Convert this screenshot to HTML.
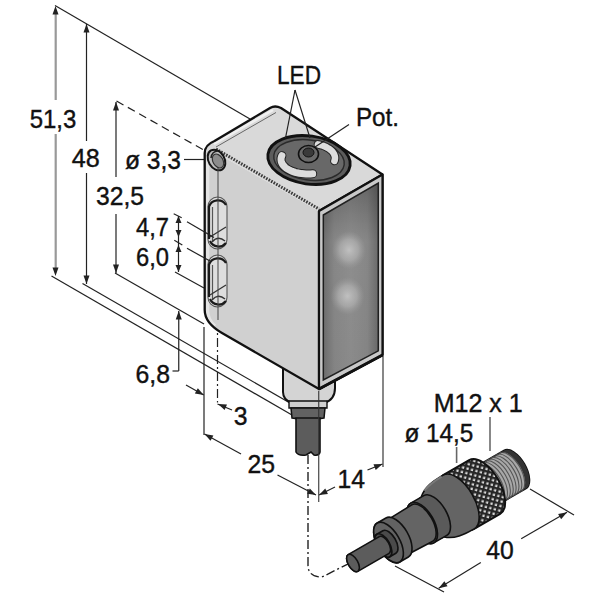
<!DOCTYPE html>
<html><head><meta charset="utf-8"><style>
html,body{margin:0;padding:0;background:#fff;}
svg{display:block;font-family:"Liberation Sans",sans-serif;}
</style></head><body>
<svg width="600" height="600" viewBox="0 0 600 600">
<defs><filter id="blur" x="-1" y="-1" width="3" height="3"><feGaussianBlur stdDeviation="5"/></filter><linearGradient id="pan" x1="0" y1="0" x2="0" y2="1"><stop offset="0" stop-color="#6a6a6a"/><stop offset="0.3" stop-color="#8e8e8e"/><stop offset="1" stop-color="#8a8a8a"/></linearGradient><linearGradient id="panh" x1="0" y1="0" x2="1" y2="0"><stop offset="0" stop-color="#000" stop-opacity="0.22"/><stop offset="0.2" stop-color="#000" stop-opacity="0.05"/><stop offset="0.5" stop-color="#000" stop-opacity="0"/><stop offset="0.8" stop-color="#000" stop-opacity="0.05"/><stop offset="1" stop-color="#000" stop-opacity="0.25"/></linearGradient><radialGradient id="glow"><stop offset="0" stop-color="#c6c6c6" stop-opacity="0.9"/><stop offset="0.55" stop-color="#b4b4b4" stop-opacity="0.65"/><stop offset="1" stop-color="#a0a0a0" stop-opacity="0"/></radialGradient>
<pattern id="knurl" width="4.6" height="4.6" patternUnits="userSpaceOnUse" patternTransform="rotate(45)"><rect width="4.6" height="4.6" fill="#d8d8d8"/><rect width="4.6" height="2.3" fill="#262626"/><rect width="2.3" height="4.6" fill="#262626"/></pattern></defs>
<rect width="600" height="600" fill="#fff"/>
<line x1="55" y1="5.5" x2="250" y2="119" stroke="#222" stroke-width="1.2"/>
<line x1="55.7" y1="12" x2="55.7" y2="100" stroke="#999" stroke-width="2.2"/>
<line x1="55.7" y1="134" x2="55.7" y2="270" stroke="#999" stroke-width="2.2"/>
<polygon points="55.50,6.00 58.50,14.50 52.50,14.50" fill="#222" stroke="none" stroke-width="1"/>
<polygon points="55.50,276.00 52.50,267.50 58.50,267.50" fill="#222" stroke="none" stroke-width="1"/>
<line x1="86.5" y1="24" x2="86.5" y2="141" stroke="#222" stroke-width="1.2"/>
<line x1="86.5" y1="173" x2="86.5" y2="284" stroke="#222" stroke-width="1.2"/>
<polygon points="86.50,24.00 89.50,32.50 83.50,32.50" fill="#222" stroke="none" stroke-width="1"/>
<polygon points="86.50,284.00 83.50,275.50 89.50,275.50" fill="#222" stroke="none" stroke-width="1"/>
<line x1="116" y1="102" x2="116" y2="177" stroke="#222" stroke-width="1.2"/>
<line x1="116" y1="214" x2="116" y2="273" stroke="#222" stroke-width="1.2"/>
<polygon points="116.00,102.00 119.00,110.50 113.00,110.50" fill="#222" stroke="none" stroke-width="1"/>
<polygon points="116.00,273.00 113.00,264.50 119.00,264.50" fill="#222" stroke="none" stroke-width="1"/>
<line x1="116.5" y1="101" x2="209" y2="153" stroke="#222" stroke-width="1.2" stroke-dasharray="8,5"/>
<line x1="51.5" y1="276" x2="292" y2="415" stroke="#222" stroke-width="1.2"/>
<line x1="82.5" y1="283.5" x2="290" y2="403" stroke="#222" stroke-width="1.2"/>
<line x1="115" y1="273" x2="204" y2="324" stroke="#222" stroke-width="1.2"/>
<line x1="175" y1="272" x2="204" y2="288" stroke="#222" stroke-width="1.2"/>
<line x1="178.5" y1="216" x2="178.5" y2="272" stroke="#222" stroke-width="1.2"/>
<polygon points="178.50,216.00 181.50,223.00 175.50,223.00" fill="#222" stroke="none" stroke-width="1"/>
<polygon points="178.50,237.00 175.50,230.00 181.50,230.00" fill="#222" stroke="none" stroke-width="1"/>
<polygon points="178.50,245.00 181.50,252.00 175.50,252.00" fill="#222" stroke="none" stroke-width="1"/>
<polygon points="178.50,272.00 175.50,265.00 181.50,265.00" fill="#222" stroke="none" stroke-width="1"/>
<line x1="173.7" y1="213.7" x2="181.7" y2="217.7" stroke="#222" stroke-width="1.2"/>
<line x1="174.3" y1="240.3" x2="182.3" y2="245" stroke="#222" stroke-width="1.2"/>
<line x1="184" y1="159.5" x2="210" y2="159.5" stroke="#222" stroke-width="1.2"/>
<line x1="178.75" y1="311" x2="178.75" y2="371" stroke="#222" stroke-width="1.2"/>
<line x1="178.75" y1="371" x2="172.5" y2="371" stroke="#222" stroke-width="1.2"/>
<polygon points="178.75,311.00 181.75,319.50 175.75,319.50" fill="#222" stroke="none" stroke-width="1"/>
<line x1="186" y1="385" x2="203.75" y2="395" stroke="#222" stroke-width="1.2"/>
<polygon points="203.75,395.00 194.87,393.44 197.82,388.21" fill="#222" stroke="none" stroke-width="1"/>
<line x1="217.5" y1="168" x2="217.5" y2="402.5" stroke="#222" stroke-width="1.2" stroke-dasharray="9,3,2,3"/>
<line x1="217.5" y1="404" x2="232" y2="410" stroke="#222" stroke-width="1.2"/>
<polygon points="218.00,404.00 226.99,404.59 224.63,410.11" fill="#222" stroke="none" stroke-width="1"/>
<line x1="204" y1="327" x2="204" y2="435" stroke="#222" stroke-width="1.2"/>
<line x1="204.5" y1="434" x2="241" y2="454" stroke="#222" stroke-width="1.2"/>
<polygon points="204.50,434.00 213.40,435.45 210.51,440.72" fill="#222" stroke="none" stroke-width="1"/>
<line x1="277.5" y1="475" x2="316" y2="495" stroke="#222" stroke-width="1.2"/>
<polygon points="316.00,495.00 307.07,493.74 309.84,488.42" fill="#222" stroke="none" stroke-width="1"/>
<line x1="383" y1="356" x2="383" y2="467" stroke="#555" stroke-width="1.4"/>
<line x1="319" y1="495" x2="335" y2="487" stroke="#222" stroke-width="1.2"/>
<polygon points="319.00,495.00 325.26,488.52 327.94,493.88" fill="#222" stroke="none" stroke-width="1"/>
<line x1="367.5" y1="470" x2="382.5" y2="464" stroke="#222" stroke-width="1.2"/>
<polygon points="382.50,464.00 375.72,469.94 373.49,464.37" fill="#222" stroke="none" stroke-width="1"/>
<path d="M308 455 L308 565 Q308 577 322 577 L350 563" fill="none" stroke="#222" stroke-width="1.4" stroke-dasharray="9,3,2,3"/>
<line x1="530" y1="489" x2="574" y2="515" stroke="#222" stroke-width="1.2"/>
<line x1="395" y1="566" x2="444" y2="592" stroke="#222" stroke-width="1.2"/>
<line x1="438.7" y1="588.2" x2="480.8" y2="562.5" stroke="#222" stroke-width="1.2"/>
<polygon points="438.70,588.20 444.39,581.21 447.52,586.33" fill="#222" stroke="none" stroke-width="1"/>
<line x1="521.2" y1="538.7" x2="567" y2="512.3" stroke="#222" stroke-width="1.2"/>
<polygon points="567.00,512.30 561.13,519.14 558.14,513.95" fill="#222" stroke="none" stroke-width="1"/>
<line x1="490" y1="417" x2="490" y2="451" stroke="#888" stroke-width="2"/>
<line x1="456.6" y1="447" x2="456.6" y2="463" stroke="#666" stroke-width="1.6"/>
<path d="M283,355 L335,355 L335,388 Q335,400 324,403 L292,403 Q283,400 283,392 Z" fill="#d4d4d4" stroke="#111" stroke-width="2"/>
<path d="M289,401 L327,401 L327,408 L289,408 Z" fill="#d0d0d0" stroke="#111" stroke-width="1.4"/>
<path d="M291,408 L325,408 L324,418 Q308,421 292,418 Z" fill="#626262" stroke="#111" stroke-width="1.5"/>
<path d="M296,418 L320,418 L320,452 Q319,456 314,455 L311,452 L306,455 Q298,456 296,452 Z" fill="#5c5c5c" stroke="#111" stroke-width="1.6"/>
<path d="M214.5,141 L270,108 Q275,105 281,108 L382.5,174.5 L319,211 L213,151 Q209,149 204.7,153 Q204.7,145 214.5,141 Z" fill="#d9d9d9"/>
<line x1="214" y1="144" x2="273" y2="110" stroke="#f0f0f0" stroke-width="2.5"/>
<line x1="216" y1="147" x2="276" y2="112.5" stroke="#666" stroke-width="1"/>
<path d="M204.7,153 Q209,149 213,151 L319,211 L319,389 L222,333 Q204.7,323 204.7,310 Z" fill="#d0d0d0"/>
<path d="M207.5,156 L207.5,310 Q207.5,320 215,326" fill="none" stroke="#e4e4e4" stroke-width="3.5"/>
<line x1="216" y1="149" x2="319" y2="209" stroke="#3a3a3a" stroke-width="3" stroke-dasharray="1.6,1.3"/>
<path d="M204.7,310 L204.7,153 Q204.7,145 214.5,141 L270,108 Q275,105 281,108 L382.5,174.5 L382.5,355 L319,389 L222,333 Q204.7,323 204.7,310 Z" fill="none" stroke="#111" stroke-width="2.3" stroke-linejoin="round"/>
<path d="M319,211 L382.5,174.5 M319,211 L319,389" fill="none" stroke="#111" stroke-width="2.2"/>
<polygon points="319,211 382.5,174.5 382.5,355 319,389" fill="#c9c9c9" stroke="#111" stroke-width="2.2" stroke-linejoin="round"/>
<polygon points="323.3,215 378.3,183 378.3,350.8 323.3,380" fill="url(#pan)" stroke="#222" stroke-width="1.5"/>
<polygon points="323.3,215 378.3,183 378.3,350.8 323.3,380" fill="url(#panh)"/>
<ellipse cx="349" cy="250" rx="17" ry="19" fill="url(#glow)"/>
<ellipse cx="347.5" cy="296" rx="17" ry="19" fill="url(#glow)"/>
<line x1="319" y1="389" x2="382.5" y2="355" stroke="#111" stroke-width="3"/>
<g transform="translate(309,160) rotate(8)"><ellipse rx="41.5" ry="24" fill="#5c5c5c" stroke="#111" stroke-width="2.8"/><ellipse rx="35.5" ry="20" fill="#686868" stroke="#2a2a2a" stroke-width="1.4"/></g>
<path d="M312.7,173.8 L310.5,173.9 L308.2,174.0 L305.9,174.0 L303.7,173.8 L301.5,173.6 L299.3,173.2 L297.2,172.8 L295.2,172.3 L293.2,171.6 L291.4,170.9 L289.7,170.2 L288.1,169.3 L286.6,168.4 L285.3,167.4 L284.2,166.3 L283.2,165.2 L282.4,164.1 L281.8,162.9 L281.3,161.8 L281.1,160.6 L281.0,159.3 L281.1,158.1 L281.4,156.9 L281.9,155.7" fill="none" stroke="#222" stroke-width="9" stroke-linecap="round"/>
<path d="M312.7,173.8 L310.5,173.9 L308.2,174.0 L305.9,174.0 L303.7,173.8 L301.5,173.6 L299.3,173.2 L297.2,172.8 L295.2,172.3 L293.2,171.6 L291.4,170.9 L289.7,170.2 L288.1,169.3 L286.6,168.4 L285.3,167.4 L284.2,166.3 L283.2,165.2 L282.4,164.1 L281.8,162.9 L281.3,161.8 L281.1,160.6 L281.0,159.3 L281.1,158.1 L281.4,156.9 L281.9,155.7" fill="none" stroke="#dcdcdc" stroke-width="7" stroke-linecap="round"/>
<path d="M317.9,144.4 L319.3,144.7 L320.7,145.1 L322.1,145.5 L323.4,145.9 L324.7,146.4 L325.9,147.0 L327.0,147.6 L328.1,148.2 L329.1,148.8 L330.1,149.5 L330.9,150.2 L331.7,151.0 L332.5,151.7 L333.1,152.5 L333.6,153.3 L334.1,154.2 L334.4,155.0 L334.7,155.9 L334.9,156.7 L335.0,157.6 L335.0,158.4 L334.9,159.3 L334.7,160.2 L334.4,161.0" fill="none" stroke="#222" stroke-width="8.5" stroke-linecap="round"/>
<path d="M317.9,144.4 L319.3,144.7 L320.7,145.1 L322.1,145.5 L323.4,145.9 L324.7,146.4 L325.9,147.0 L327.0,147.6 L328.1,148.2 L329.1,148.8 L330.1,149.5 L330.9,150.2 L331.7,151.0 L332.5,151.7 L333.1,152.5 L333.6,153.3 L334.1,154.2 L334.4,155.0 L334.7,155.9 L334.9,156.7 L335.0,157.6 L335.0,158.4 L334.9,159.3 L334.7,160.2 L334.4,161.0" fill="none" stroke="#dcdcdc" stroke-width="6.5" stroke-linecap="round"/>
<ellipse cx="308.5" cy="154" rx="10" ry="8.5" fill="#6a6a6a" stroke="#111" stroke-width="1.6"/>
<ellipse cx="308.5" cy="152.5" rx="5.5" ry="4.5" fill="#3a3a3a" stroke="#111" stroke-width="1"/>
<ellipse transform="translate(216.5,160) rotate(-30)" rx="8" ry="11" fill="#bdbdbd" stroke="#151515" stroke-width="2"/>
<rect x="208" y="197" width="19" height="52" rx="9.5" fill="#dedede" stroke="#555" stroke-width="1.1"/>
<path d="M209,239 L209,206.5 A9.5,9.5 0 0 1 226,205" fill="none" stroke="#1a1a1a" stroke-width="2.2"/>
<line x1="212.5" y1="207" x2="212.5" y2="241" stroke="#555" stroke-width="1.2"/>
<path d="M210,237 L226,227" fill="none" stroke="#333" stroke-width="1.3"/>
<path d="M210,241 A9.5,9.5 0 0 0 226,243" fill="none" stroke="#1a1a1a" stroke-width="2.2"/>
<path d="M212,242 Q218,235 225,241" fill="none" stroke="#333" stroke-width="1.4"/>
<rect x="208" y="255" width="19" height="52" rx="9.5" fill="#dedede" stroke="#555" stroke-width="1.1"/>
<path d="M209,297 L209,264.5 A9.5,9.5 0 0 1 226,263" fill="none" stroke="#1a1a1a" stroke-width="2.2"/>
<line x1="212.5" y1="265" x2="212.5" y2="299" stroke="#555" stroke-width="1.2"/>
<path d="M210,295 L226,285" fill="none" stroke="#333" stroke-width="1.3"/>
<path d="M210,299 A9.5,9.5 0 0 0 226,301" fill="none" stroke="#1a1a1a" stroke-width="2.2"/>
<path d="M212,300 Q218,293 225,299" fill="none" stroke="#333" stroke-width="1.4"/>
<ellipse transform="translate(218,161) rotate(-30)" rx="5" ry="7.5" fill="#8c8c8c" stroke="#333" stroke-width="1.2"/>
<path d="M211,158 Q212,151 218,151" fill="none" stroke="#222" stroke-width="1.5"/>
<line x1="218" y1="168" x2="218" y2="320" stroke="#444" stroke-width="1"/>
<line x1="187" y1="221.7" x2="214" y2="237.5" stroke="#222" stroke-width="1.2"/>
<line x1="187" y1="248.3" x2="210" y2="261" stroke="#222" stroke-width="1.2"/>
<line x1="318.75" y1="391" x2="318.75" y2="502" stroke="#333" stroke-width="1.1"/>
<g transform="translate(353,563) rotate(-30)">
<path d="M152,-22 L187,-22 A11.0,22 0 0 1 187,22 L152,22 A11.0,22 0 0 1 152,-22 Z" fill="#a8a8a8" stroke="#111" stroke-width="1.6"/>
<path d="M155.0,-22 A11,22 0 0 1 155.0,22" fill="none" stroke="#555" stroke-width="1.1"/>
<path d="M158.3,-22 A11,22 0 0 1 158.3,22" fill="none" stroke="#555" stroke-width="1.1"/>
<path d="M161.6,-22 A11,22 0 0 1 161.6,22" fill="none" stroke="#555" stroke-width="1.1"/>
<path d="M164.9,-22 A11,22 0 0 1 164.9,22" fill="none" stroke="#555" stroke-width="1.1"/>
<path d="M168.2,-22 A11,22 0 0 1 168.2,22" fill="none" stroke="#555" stroke-width="1.1"/>
<path d="M171.5,-22 A11,22 0 0 1 171.5,22" fill="none" stroke="#555" stroke-width="1.1"/>
<path d="M174.8,-22 A11,22 0 0 1 174.8,22" fill="none" stroke="#555" stroke-width="1.1"/>
<path d="M178.1,-22 A11,22 0 0 1 178.1,22" fill="none" stroke="#555" stroke-width="1.1"/>
<path d="M181.4,-22 A11,22 0 0 1 181.4,22" fill="none" stroke="#555" stroke-width="1.1"/>
<path d="M182,-22 A11,22 0 0 1 182,22 L187,22 A11,22 0 0 0 187,-22 Z" fill="#333"/>
<path d="M122,-31 L152,-31 A15.5,31 0 0 1 152,31 L122,31 A15.5,31 0 0 1 122,-31 Z" fill="url(#knurl)" stroke="#111" stroke-width="2"/>
<path d="M92,-23 C100,-30 110,-31 122,-31 A15.5,31 0 0 1 122,31 C110,31 100,30 92,23 A11.5,23 0 0 1 92,-23 Z" fill="#646464" stroke="#111" stroke-width="1.6"/>
<path d="M98,-27 C106,-30 112,-30.5 120,-30.5" fill="none" stroke="#7a7a7a" stroke-width="2"/>
<path d="M80,-23 L95,-23 A11.5,23 0 0 1 95,23 L80,23 A11.5,23 0 0 1 80,-23 Z" fill="#5a5a5a" stroke="#111" stroke-width="1.6"/>
<ellipse cx="80" cy="0" rx="11.5" ry="23" fill="#5a5a5a" stroke="#111" stroke-width="1.6"/>
<path d="M50,-20 L80,-21 A10.5,21 0 0 1 80,21 L50,20 A10.0,20 0 0 1 50,-20 Z" fill="#646464" stroke="#111" stroke-width="1.6"/>
<ellipse cx="50" cy="0" rx="10.0" ry="20" fill="#646464" stroke="#111" stroke-width="1.6"/>
<path d="M41,-22.5 L51,-22.5 A11.25,22.5 0 0 1 51,22.5 L41,22.5 A11.25,22.5 0 0 1 41,-22.5 Z" fill="#626262" stroke="#111" stroke-width="1.6"/>
<ellipse cx="41" cy="0" rx="11.25" ry="22.5" fill="#626262" stroke="#111" stroke-width="1.6"/>
<path d="M35,-13 L42,-13 A6.5,13 0 0 1 42,13 L35,13 A6.5,13 0 0 1 35,-13 Z" fill="#4a4a4a" stroke="#111" stroke-width="1.6"/>
<ellipse cx="35" cy="0" rx="6.5" ry="13" fill="#4a4a4a" stroke="#111" stroke-width="1.6"/>
<path d="M0,-9.7 L36,-9.7 A4.85,9.7 0 0 1 36,9.7 L0,9.7 A4.85,9.7 0 0 1 0,-9.7 Z" fill="#5c5c5c" stroke="#111" stroke-width="1.6"/>
<ellipse cx="0" cy="0" rx="4.85" ry="9.7" fill="#5c5c5c" stroke="#111" stroke-width="1.6"/>
</g>
<text x="29.7" y="128" font-size="26" textLength="46.599999999999994" lengthAdjust="spacingAndGlyphs" fill="#111" stroke="#111" stroke-width="0.4">51,3</text>
<text x="71.7" y="167.3" font-size="26" textLength="28.0" lengthAdjust="spacingAndGlyphs" fill="#111" stroke="#111" stroke-width="0.4">48</text>
<text x="96" y="205" font-size="26" textLength="48" lengthAdjust="spacingAndGlyphs" fill="#111" stroke="#111" stroke-width="0.4">32,5</text>
<text x="125" y="169" font-size="26" textLength="56" lengthAdjust="spacingAndGlyphs" fill="#111" stroke="#111" stroke-width="0.4">ø 3,3</text>
<text x="136" y="235.5" font-size="26" textLength="33" lengthAdjust="spacingAndGlyphs" fill="#111" stroke="#111" stroke-width="0.4">4,7</text>
<text x="136" y="266" font-size="26" textLength="33" lengthAdjust="spacingAndGlyphs" fill="#111" stroke="#111" stroke-width="0.4">6,0</text>
<text x="135.5" y="382.5" font-size="26" textLength="34.5" lengthAdjust="spacingAndGlyphs" fill="#111" stroke="#111" stroke-width="0.4">6,8</text>
<text x="233.75" y="425" font-size="26" textLength="13.75" lengthAdjust="spacingAndGlyphs" fill="#111" stroke="#111" stroke-width="0.4">3</text>
<text x="247.5" y="472.5" font-size="26" textLength="27.5" lengthAdjust="spacingAndGlyphs" fill="#111" stroke="#111" stroke-width="0.4">25</text>
<text x="337.5" y="487.5" font-size="26" textLength="27.5" lengthAdjust="spacingAndGlyphs" fill="#111" stroke="#111" stroke-width="0.4">14</text>
<text x="277" y="83.75" font-size="26" textLength="44" lengthAdjust="spacingAndGlyphs" fill="#111" stroke="#111" stroke-width="0.4">LED</text>
<text x="356" y="126" font-size="26" textLength="43" lengthAdjust="spacingAndGlyphs" fill="#111" stroke="#111" stroke-width="0.4">Pot.</text>
<text x="433.7" y="412.3" font-size="26" textLength="89.09999999999997" lengthAdjust="spacingAndGlyphs" fill="#111" stroke="#111" stroke-width="0.4">M12 x 1</text>
<text x="404.4" y="442.3" font-size="26" textLength="68.90000000000003" lengthAdjust="spacingAndGlyphs" fill="#111" stroke="#111" stroke-width="0.4">ø 14,5</text>
<text x="486.3" y="558.8" font-size="26" textLength="27.499999999999943" lengthAdjust="spacingAndGlyphs" fill="#111" stroke="#111" stroke-width="0.4">40</text>
<line x1="295" y1="90" x2="285.5" y2="138" stroke="#222" stroke-width="1.2"/>
<line x1="295" y1="90" x2="310" y2="138" stroke="#222" stroke-width="1.2"/>
<line x1="349" y1="124.5" x2="315" y2="147" stroke="#222" stroke-width="1.2"/>
</svg>
</body></html>
